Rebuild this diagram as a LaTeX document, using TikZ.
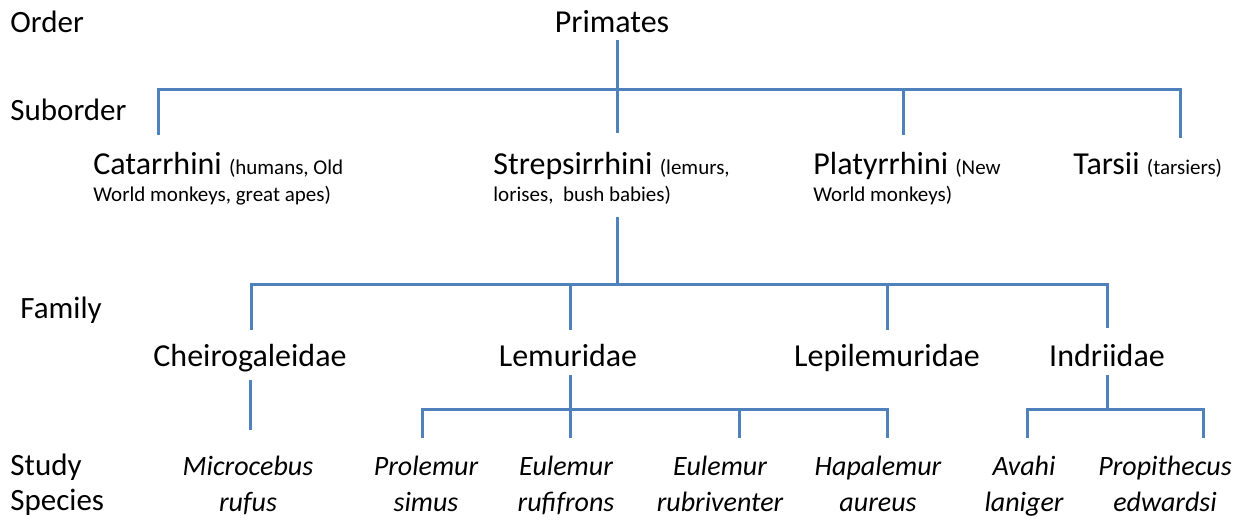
\documentclass[tikz,border=0pt]{standalone}
\usepackage{fontspec}
\setmainfont{Carlito}
\definecolor{branchblue}{RGB}{79,129,189}
\newcommand{\note}[1]{{\fontsize{10.5}{13.5}\selectfont #1}}
\begin{document}
\begin{tikzpicture}[x=0.5pt,y=-0.5pt,inner sep=0pt,
	branch/.style={draw=branchblue,line width=1.5pt},
	rank/.style={anchor=west,align=left,font=\fontsize{15.5}{17.5}\selectfont},
	taxon/.style={text height=11pt,text depth=3.5pt,font=\fontsize{16}{19}\selectfont},
	suborder/.style={anchor=north west,align=left,font=\fontsize{16}{13.5}\selectfont},
	species/.style={align=center,text height=28pt,text depth=4pt,font=\fontsize{14}{18}\selectfont\itshape}]
		\useasboundingbox (0,0) rectangle (1240,523);
		\node[rank] (order) at (10,22) {Order};
		\node[rank] (subord) at (10,110) {Suborder};
		\node[rank] (family) at (20,310) {Family};
		\node[rank] (study) at (10,485) {Study\\Species};
		\node[taxon] (primates) at (612,25) {Primates};
		\node[suborder] (catarr) at (93,152) {Catarrhini \note{(humans, Old}\\\note{World monkeys, great apes)}};
		\node[suborder] (strep) at (493,152) {Strepsirrhini \note{(lemurs,}\\\note{lorises,\ \ bush babies)}};
		\node[suborder] (platy) at (813,152) {Platyrrhini \note{(New}\\\note{World monkeys)}};
		\node[suborder] (tarsii) at (1073,152) {Tarsii \note{(tarsiers)}};
		\node[taxon] (cheiro) at (250,359) {Cheirogaleidae};
		\node[taxon] (lemur) at (568,359) {Lemuridae};
		\node[taxon] (lepil) at (887,359) {Lepilemuridae};
		\node[taxon] (indri) at (1107,359) {Indriidae};
		\node[species] (micro) at (248,487) {Microcebus\\rufus};
		\node[species] (prole) at (426,487) {Prolemur\\simus};
		\node[species] (eurufi) at (566,487) {Eulemur\\rufifrons};
		\node[species] (eurubr) at (720,487) {Eulemur\\rubriventer};
		\node[species] (hapal) at (878,487) {Hapalemur\\aureus};
		\node[species] (avahi) at (1024,487) {Avahi\\laniger};
		\node[species] (propi) at (1165,487) {Propithecus\\edwardsi};
		\draw[branch] (617,40) -- (617,133);
		\draw[branch] (158,135) -- (158,90) -- (1180,90) -- (1180,138);
		\draw[branch] (903,90) -- (903,135);
		\draw[branch] (617,217) -- (617,285);
		\draw[branch] (251,330) -- (251,285) -- (1107,285) -- (1107,328);
		\draw[branch] (570,285) -- (570,330);
		\draw[branch] (887,285) -- (887,330);
		\draw[branch] (250,380) -- (250,430);
		\draw[branch] (570,375) -- (570,438);
		\draw[branch] (422,438) -- (422,409) -- (887,409) -- (887,438);
		\draw[branch] (739,409) -- (739,438);
		\draw[branch] (1107,375) -- (1107,409);
		\draw[branch] (1027,438) -- (1027,409) -- (1203,409) -- (1203,438);
	\end{tikzpicture}
\end{document}
